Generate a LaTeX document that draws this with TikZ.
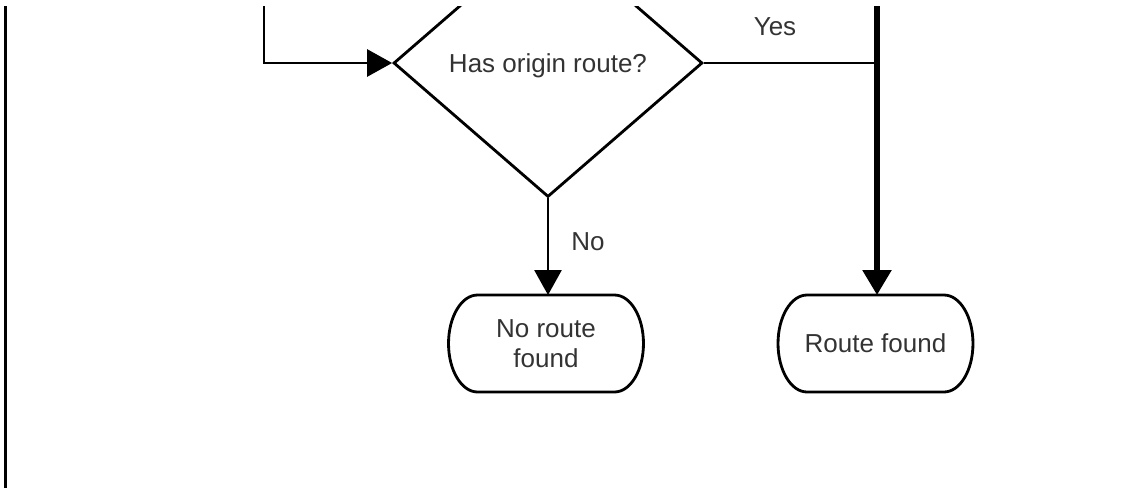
\documentclass[tikz,border=0pt]{standalone}
\usepackage{fontspec}
\setmainfont{Liberation Sans}
\usetikzlibrary{shapes.geometric,arrows.meta}

\definecolor{labelgray}{RGB}{51,51,51}

\tikzset{
  flow/.style={draw=black, line width=1.6pt},
  decision/.style={flow, diamond, minimum width=6.18cm, minimum height=5.36cm, inner sep=0pt, text depth=0pt},
  terminal/.style={rectangle, minimum width=3.9cm, minimum height=1.94cm, outer sep=0pt, align=center},
  conn/.style={flow, -{Triangle[length=0.5cm,width=0.54cm]}},
  mainline/.style={draw=black, line width=3.1pt, -{Triangle[length=0.5cm,width=0.56cm]}}
}

% outline of a terminal box with bulging ends
\newcommand{\terminalline}[1]{%
  \draw[flow] ([xshift=0.58cm]#1.north west) -- ([xshift=-0.58cm]#1.north east)
    arc[start angle=90, end angle=-90, x radius=0.58cm, y radius=0.97cm]
    -- ([xshift=0.58cm]#1.south west)
    arc[start angle=270, end angle=90, x radius=0.58cm, y radius=0.97cm] -- cycle;}

\begin{document}
\begin{tikzpicture}[x=0.02cm, y=-0.02cm,
    every node/.style={font=\fontsize{14.8}{17}\selectfont, text=labelgray}]
  \useasboundingbox (0,0) rectangle (1147,488);
  \clip (0,6) rectangle (1147,488);

  \draw[black, line width=1.3pt] (5.5,0) -- (5.5,488);

  \node[decision] (origin) at (548,63) {Has origin route?};
  \node[terminal] (noroute) at (546,343.5) {No route\\found};
  \node[terminal] (found) at (875.5,343.5) {Route found};
  \terminalline{noroute}
  \terminalline{found}

  \coordinate (intop) at (264,-10);
  \coordinate (maintop) at (877,-10);
  \coordinate (yesjoin) at (877,63);

  \draw[conn] (intop) |- (origin.west);
  \draw[flow] (origin.east) -- (yesjoin);
  \draw[mainline] (maintop) -- (maintop |- found.north);
  \draw[conn] (origin.south) -- (origin.south |- noroute.north);

  \node[anchor=base] (yes) at (775,35) {Yes};
  \node[anchor=base] (no) at (588,250) {No};
\end{tikzpicture}
\end{document}
